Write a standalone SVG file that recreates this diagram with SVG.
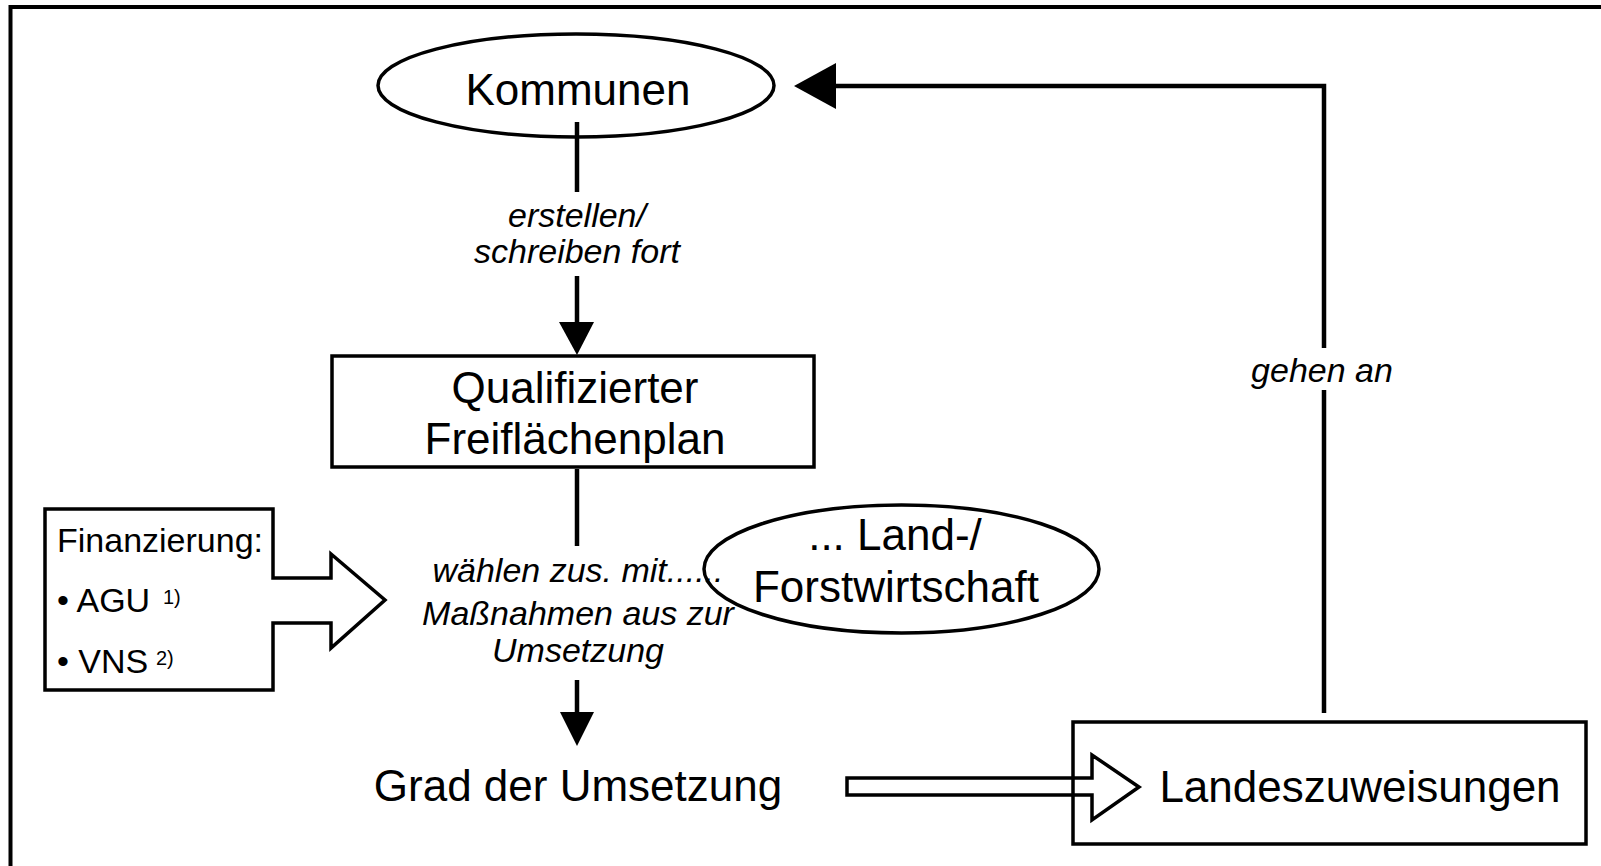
<svg xmlns="http://www.w3.org/2000/svg" width="1601" height="866" viewBox="0 0 1601 866">
<style>
.ln{fill:none;stroke:#000;stroke-width:4.5}
.sh{fill:#fff;stroke:#000;stroke-width:3.5}
.hd{fill:#000;stroke:none}
.big{font-family:"Liberation Sans",Arial,sans-serif;font-size:44px;fill:#000}
.lab{font-family:"Liberation Sans",Arial,sans-serif;font-size:34px;font-style:italic;fill:#000}
.fin{font-family:"Liberation Sans",Arial,sans-serif;font-size:34px;fill:#000}
.sup{font-family:"Liberation Sans",Arial,sans-serif;font-size:20px;fill:#000}
</style>
<rect width="1601" height="866" fill="#fff"/>
<path d="M10.5,866 V7 H1601" fill="none" stroke="#000" stroke-width="4"/>

<g id="connectors">
  <path class="ln" d="M577,122 V192"/>
  <path class="ln" d="M577,276 V324"/>
  <polygon class="hd" points="559,322 594,322 577,355"/>
  <path class="ln" d="M577,469 V546"/>
  <path class="ln" d="M577,680 V714"/>
  <polygon class="hd" points="560,712 594,712 577,746"/>
  <path class="ln" d="M1324,713 V390"/>
  <path class="ln" d="M1324,348 V86 H834"/>
  <polygon class="hd" points="794,86 836,63 836,109"/>
  <polygon class="sh" points="847,778 1092,778 1092,755 1139,787 1092,820 1092,795 847,795"/>
  <text class="lab" x="577" y="227" text-anchor="middle">erstellen/</text>
  <text class="lab" x="577" y="263" text-anchor="middle">schreiben fort</text>
  <text class="lab" x="1322" y="382" text-anchor="middle">gehen an</text>
</g>

<g id="kommunen">
  <ellipse class="sh" fill="none" style="fill:none" cx="576" cy="85.5" rx="198" ry="51.5"/>
  <text class="big" x="578" y="105" text-anchor="middle">Kommunen</text>
</g>

<g id="freiflaechenplan">
  <rect class="sh" x="332" y="356" width="482" height="111"/>
  <text class="big" x="575" y="403" text-anchor="middle">Qualifizierter</text>
  <text class="big" x="575" y="454" text-anchor="middle">Freiflächenplan</text>
</g>

<g id="landforst">
  <ellipse class="sh" style="fill:none" cx="901.5" cy="569" rx="197.5" ry="64"/>
  <text class="big" x="895" y="550" text-anchor="middle">... Land-/</text>
  <text class="big" x="896" y="602" text-anchor="middle">Forstwirtschaft</text>
</g>

<g id="massnahmen">
  <text class="lab" x="578" y="582" text-anchor="middle">wählen zus. mit......</text>
  <text class="lab" x="578" y="625" text-anchor="middle">Maßnahmen aus zur</text>
  <text class="lab" x="578" y="662" text-anchor="middle">Umsetzung</text>
</g>

<g id="finanzierung">
  <polygon class="sh" points="45,509 273,509 273,578 331,578 331,554 385,600 331,648 331,623 273,623 273,690 45,690"/>
  <text class="fin" x="57" y="552">Finanzierung:</text>
  <text class="fin" x="57" y="612">• AGU</text>
  <text class="sup" x="163" y="604">1)</text>
  <text class="fin" x="57" y="673">• VNS</text>
  <text class="sup" x="156" y="665">2)</text>
</g>

<g id="grad">
  <text class="big" x="578" y="801" text-anchor="middle">Grad der Umsetzung</text>
</g>

<g id="landeszuweisungen">
  <rect class="sh" style="fill:none" x="1073" y="722" width="513" height="122"/>
  <text class="big" x="1360" y="802" text-anchor="middle">Landeszuweisungen</text>
</g>
</svg>
